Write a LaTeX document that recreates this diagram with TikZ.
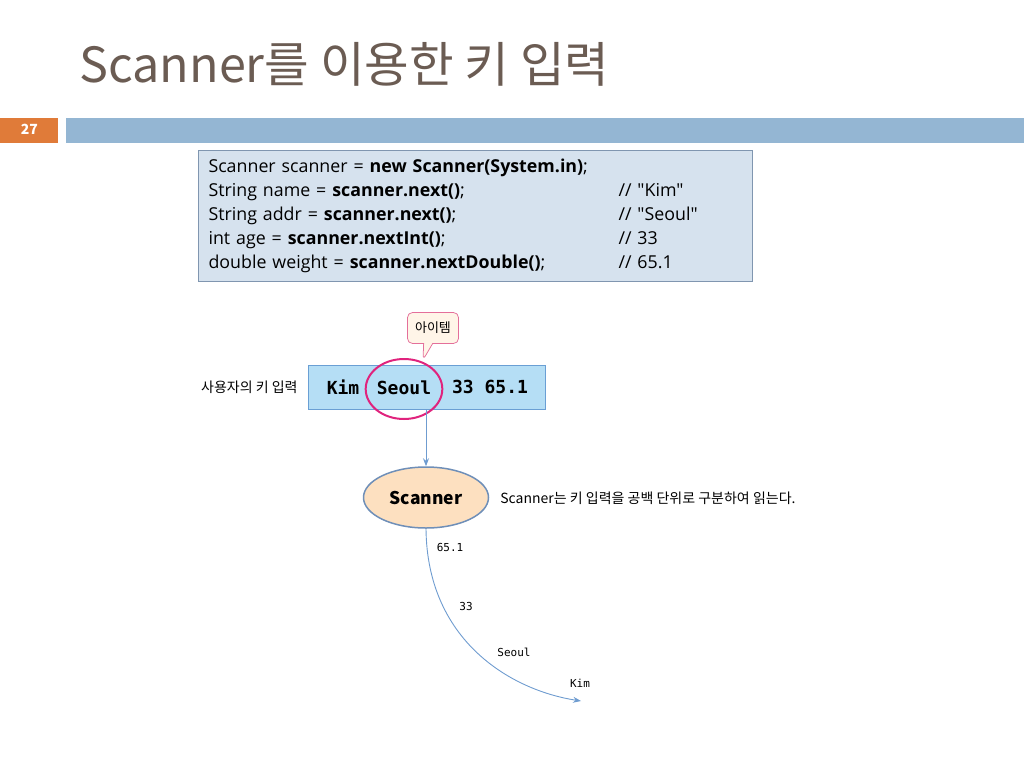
\documentclass[tikz,border=0pt]{standalone}
\usepackage{fontspec}
\setmainfont{Noto Sans CJK KR}
\newfontfamily\codefont{Open Sans}
\newfontfamily\tokenfont{DejaVu Sans Mono}
\usetikzlibrary{shapes.geometric,shapes.callouts,arrows.meta}

\definecolor{titlegray}{RGB}{107,92,83}
\definecolor{slideorange}{RGB}{224,123,57}
\definecolor{slidebar}{RGB}{148,182,211}
\definecolor{codefill}{RGB}{214,226,238}
\definecolor{codeline}{RGB}{128,150,176}
\definecolor{inputfill}{RGB}{181,222,245}
\definecolor{inputline}{RGB}{106,159,212}
\definecolor{ringpink}{RGB}{224,35,125}
\definecolor{bubblefill}{RGB}{255,245,232}
\definecolor{bubbleline}{RGB}{228,111,154}
\definecolor{scanfill}{RGB}{253,224,192}
\definecolor{scanline}{RGB}{111,143,184}
\definecolor{flowblue}{RGB}{111,156,208}

\tikzset{every picture/.style={line width=0.75pt}}
\tikzset{
  codebox/.style={draw=codeline, fill=codefill, line width=1pt, anchor=north west, inner sep=0pt},
  inbox/.style={draw=inputline, fill=inputfill, line width=1pt, inner sep=0pt},
  token/.style={inner sep=0pt, font=\tokenfont\fontsize{11}{12}\selectfont},
  flow/.style={draw=flowblue, line width=0.9pt, -{Stealth[length=8pt,width=6pt]}},
  korlabel/.style={inner sep=0pt, font=\fontsize{14}{16}\selectfont}
}

\begin{document}
\begin{tikzpicture}[x=1pt,y=1pt,yscale=-1]
\useasboundingbox (0,0) rectangle (1024,768);

% Text Node
\node [anchor=base west, inner sep=0pt, text=titlegray, font=\fontsize{48.5}{54}\selectfont] (title) at (79,82) {Scanner를 이용한 키 입력};

%Shape: Rectangle
\node [fill=slideorange, anchor=north west, minimum width=58pt, minimum height=25pt, inner sep=0pt, text=white, font=\bfseries\fontsize{14}{16}\selectfont] (pagenum) at (0,118) {\raisebox{3pt}{27}};
%Shape: Rectangle
\node [fill=slidebar, anchor=north west, minimum width=958pt, minimum height=25pt, inner sep=0pt] (bar) at (66,118) {};

%Shape: Rectangle (code)
\node [codebox, minimum width=554pt, minimum height=131pt, text width=534pt, inner xsep=10pt, font=\codefont\fontsize{17.8}{24}\selectfont] (code) at (198,150) {%
\raisebox{-2pt}{\begin{tabular}{@{}p{410pt}@{}l@{}}
Scanner scanner = \textbf{new Scanner(System.in)}; & \\
String name = \textbf{scanner.next()}; & // "Kim" \\
String addr = \textbf{scanner.next()}; & // "Seoul" \\
int age = \textbf{scanner.nextInt()}; & // 33 \\
double weight = \textbf{scanner.nextDouble()}; & // 65.1
\end{tabular}}};

%Shape: Rectangle (key input)
\node [inbox, minimum width=237pt, minimum height=44pt] (input) at (426.5,387) {};
% Text Node
\node [korlabel, anchor=east] (userlbl) at (298,387) {사용자의 키 입력};
% Text Node
\node [inner sep=0pt, font=\tokenfont\bfseries\fontsize{18}{20}\selectfont] (kim) at (343,387) {Kim};
\node [ellipse, draw=ringpink, line width=2pt, minimum width=74pt, minimum height=60pt, inner sep=0pt, font=\tokenfont\bfseries\fontsize{18}{20}\selectfont] (seoul) at (404,389) {\raisebox{2pt}{Seoul}};
\node [inner sep=0pt, font=\tokenfont\bfseries\fontsize{18}{20}\selectfont] (nums) at (490,387) {33 65.1};

%Shape: Callout
\coordinate (itemtip) at (423,360);
\node [rectangle callout, draw=bubbleline, fill=bubblefill, rounded corners=5pt, callout absolute pointer={(itemtip)}, callout pointer width=9pt, minimum width=51pt, minimum height=31pt, inner sep=0pt, font=\fontsize{13}{15}\selectfont] (item) at (433,328) {아이템};

%Shape: Ellipse
\node [ellipse, draw=scanline, fill=scanfill, line width=1.5pt, minimum width=125pt, minimum height=61pt, inner sep=0pt, font=\bfseries\fontsize{17.5}{20}\selectfont] (scanner) at (426,497.5) {Scanner};
% Text Node
\node [korlabel, anchor=west] (desc) at (500,498) {Scanner는 키 입력을 공백 단위로 구분하여 읽는다.};

%Straight Lines
\draw [flow] (input.south -| scanner) -- (scanner.north);
%Curve Lines
\coordinate (kimend) at (581,701);
\draw [flow] (scanner.south) .. controls (427,640) and (510,690) .. (kimend);

% Text Node
\node [token] (tok4) at (450,547) {65.1};
\node [token] (tok3) at (466,606) {33};
\node [token] (tok2) at (514,652) {Seoul};
\node [token] (tok1) at (580,683) {Kim};

\end{tikzpicture}
\end{document}
